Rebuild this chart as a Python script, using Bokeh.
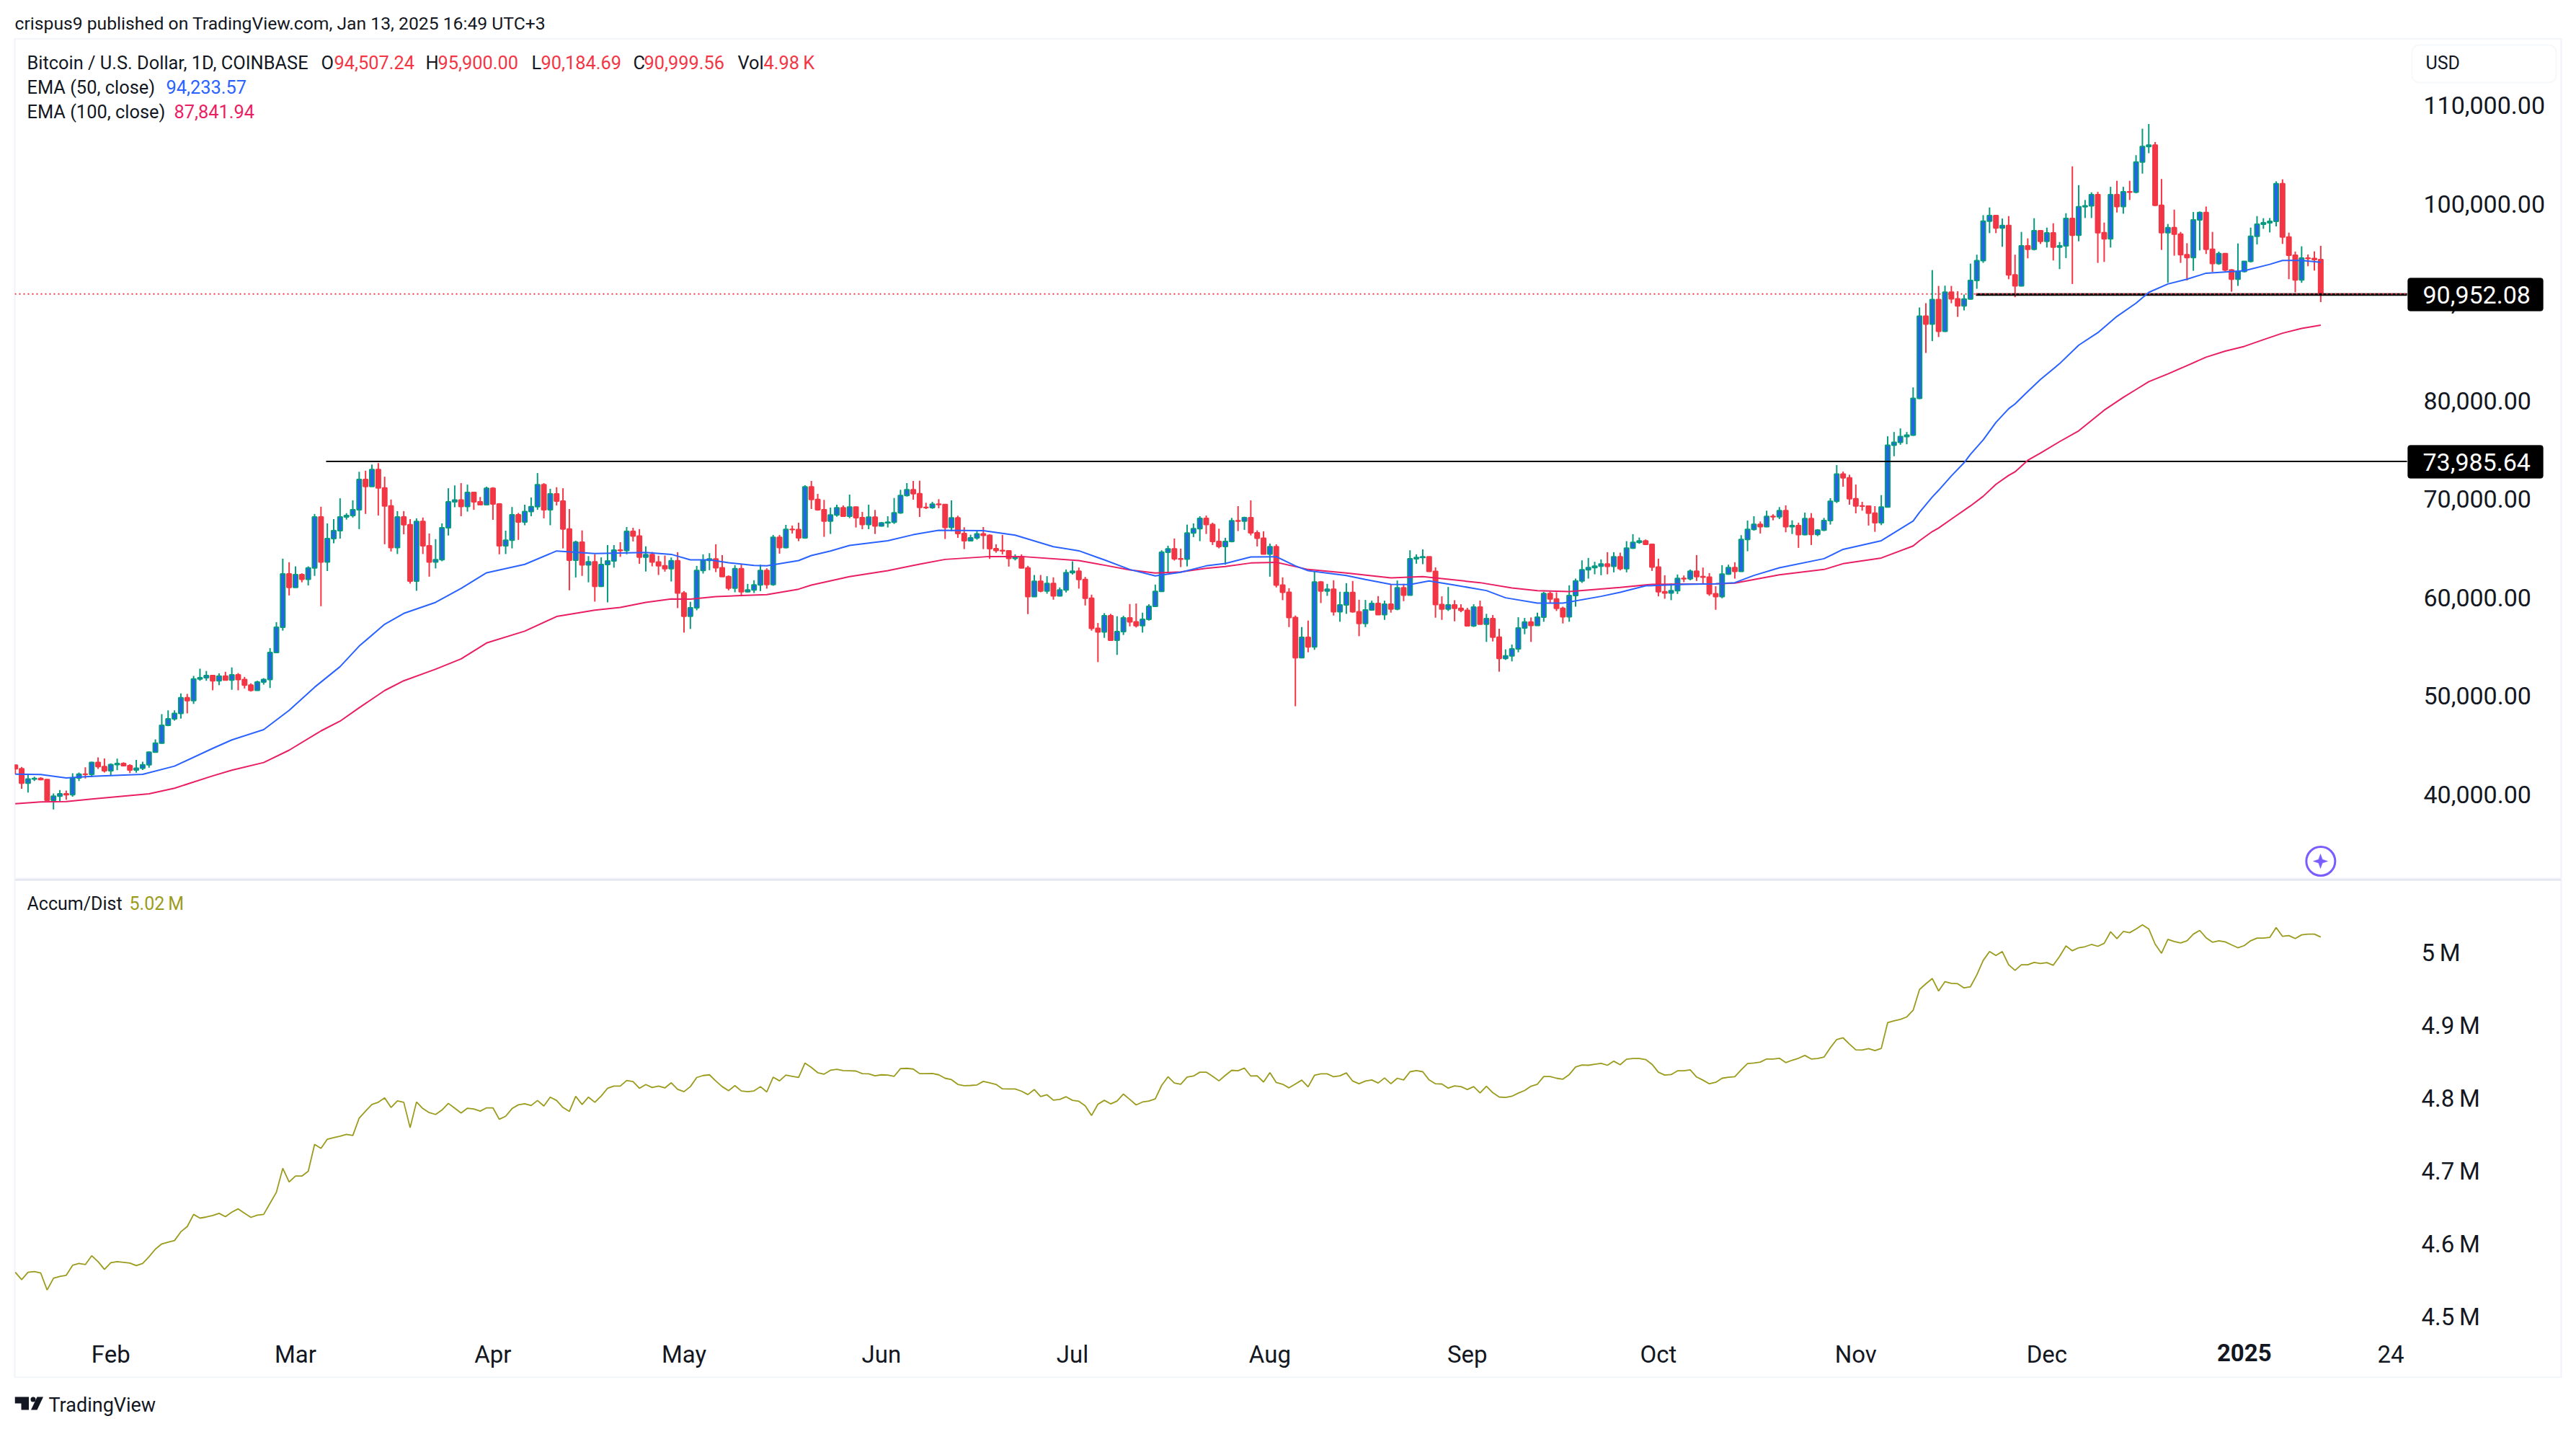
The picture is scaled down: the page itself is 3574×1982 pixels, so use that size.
from bokeh.plotting import figure
from bokeh.layouts import column
from bokeh.models import (Range1d, LinearAxis, FixedTicker, NumeralTickFormatter, Label,
                          BoxAnnotation, Span, ColumnDataSource)
from bokeh.embed import file_html
from bokeh.resources import INLINE

# ---------- data (one entry per daily candle, from 17 Jan 2024) ----------
first_open = 43140
closes = [
42772,41309,41727,41780,41675,39560,39977,40212,40135,41832,
42224,42198,43399,42981,42563,43190,43293,43085,42641,42824,
43163,44443,45357,47186,47842,48388,49981,49694,51888,52019,
52228,51705,52175,51784,52306,51836,51261,50739,51574,51836,
54578,57138,62571,61187,62493,62023,63172,68343,63773,66150,
66959,68343,68500,69075,72157,71452,73176,71295,69467,65235,
68343,67560,61840,67900,65418,63773,64008,67247,69885,70068,
69414,70851,69885,69597,71269,69676,65418,65993,68579,67847,
68892,69388,71635,69075,70694,69963,67116,63955,65784,63485,
63799,61291,63511,63877,64974,64948,66881,66411,64269,64530,
63770,63380,63087,63892,60625,58260,59113,62917,63941,64087,
63185,62283,61113,63087,60747,60942,61454,62917,61478,66281,
65233,67086,67061,66232,71401,70133,69085,67939,68548,69280,
68427,69353,68280,67573,68329,67427,67744,67817,68768,70523,
71108,70718,69329,69300,69646,69621,67281,68256,66671,65940,
66232,66622,66476,65135,64940,64900,64135,64306,63160,60260,
61819,60820,61600,60333,60942,62697,62844,61990,60089,57041,
56675,58309,55822,56699,58089,57699,57309,57943,59260,60796,
64770,65111,64100,64062,66720,67159,68207,67573,65867,65355,
65867,67963,67939,68280,66744,66184,64575,65330,61429,60698,
58138,54042,56115,55140,61747,60820,61015,58723,59406,60674,
58723,57529,58894,59552,58431,59479,58991,61161,60405,64111,
64233,64306,62819,59455,58991,59406,59065,58870,57285,59187,
57455,58016,56139,53969,54237,54944,57066,57675,57334,58162,
60576,60015,59065,58211,60357,61844,62990,63209,63355,63575,
63331,64306,63087,65184,65769,65915,65574,63258,60747,60625,
60869,62112,62063,62844,62290,62230,60552,60260,62551,63209,
62819,66062,67086,67598,67354,68402,68378,68987,67354,67476,
66549,68183,66574,67012,67988,69938,72717,72327,70206,69475,
69450,68744,67767,69351,75641,75934,76519,76665,80395,88755,
87951,90437,87219,91198,90510,89803,90486,92387,94387,98409,
98970,97702,97970,92948,91827,95898,95557,97434,96361,97215,
95776,95898,98678,96971,99872,99970,101091,97239,96605,101091,
99897,101384,101359,104407,105991,106138,100018,97239,97751,97093,
94996,94704,98531,99287,95557,94094,95118,93436,92509,93290,
94314,96874,98092,98239,98385,102213,96800,94947,92436,94655,
94606,94507.24,90999.56]
highs = [
43200,42955,42224,41963,41910,41727,40265,40604,40552,42302,
42380,42903,43478,43921,43817,43320,43790,43425,43216,43660,
43478,44522,45749,48309,48701,48701,50425,50373,52201,52933,
52697,52228,52462,52619,53063,52489,52097,51444,51705,51967,
55022,57661,64112,63746,63329,62623,63329,68657,69388,67691,
68135,70250,68735,70041,72941,73045,73672,73829,72444,70120,
68944,68944,68135,68213,68291,66672,66097,67691,71269,71556,
71791,71635,70904,70381,71426,71373,69754,66959,69362,68762,
69597,70329,72810,71791,71217,71373,71269,69153,65941,66986,
64373,64556,64243,65497,65497,65784,67325,67247,67116,65366,
64794,64404,64428,64233,64770,60820,59723,63380,64550,64672,
65574,64477,62405,63453,63550,61551,61917,63502,63136,66525,
66525,67549,67476,67768,71572,72010,70694,70084,69304,69597,
69523,70621,69402,68865,69597,69060,67841,68427,70279,71108,
71791,72010,72035,69792,69889,70158,69597,70036,68475,67305,
66549,66964,67330,66598,65574,66525,64940,64550,64550,63380,
62453,62453,62332,62210,61186,63014,63843,63209,62258,60454,
57578,58577,58504,58260,58309,59503,59552,58626,59479,61478,
64965,65428,66159,65135,67573,67695,68427,68500,67768,67159,
66232,68256,69450,68378,70036,66988,66891,65647,65574,62210,
61113,58333,57163,57821,62844,61844,61551,61917,60747,61625,
61844,59942,59918,59845,60308,59845,61478,61893,61551,64965,
64550,65062,64306,63234,60284,61235,59894,59479,59113,59479,
59845,58504,58382,56992,54896,55383,58162,58089,58138,58626,
60747,60747,60698,59235,61405,62088,63941,64184,63794,64038,
64770,64770,64721,65891,66598,66257,66062,65647,64111,62429,
61600,62502,62405,63014,64477,63209,62649,61308,63453,63502,
63746,66500,67988,68427,67890,68987,68622,69353,69524,68012,
67768,68792,68744,67110,68256,70255,73619,72961,72644,71645,
69889,69475,69449,70570,76543,76982,77348,76982,81517,89635,
90074,93436,91827,91851,91827,91290,90949,94094,95000,99019,
99799,99019,98678,98921,95000,97312,96654,98702,97434,97751,
98190,96288,99214,103968,102066,100555,101335,101384,98263,101896,
102505,101896,102505,105114,107796,108283,106455,102700,98117,99580,
97312,96166,99336,99385,99897,97312,95313,95167,93533,96142,
94314,97751,98921,98702,98726,102456,102652,97239,95313,95850,
95021,95337,95900]
lows = [
42200,40734,40343,41518,41597,39507,38619,39455,39612,39925,
41518,41780,41910,42747,42380,42041,42615,43007,42328,42354,
42641,42876,44391,45305,47082,47656,47865,48388,49354,51705,
51705,50739,51261,51731,50791,50739,50922,50608,50687,51313,
50973,54526,56798,60377,61161,61709,61396,62362,59280,62858,
65679,66150,68082,68291,67116,68657,71426,68500,65575,64843,
64582,66593,61578,60847,64582,62284,63120,63851,66463,69336,
68422,68892,69075,69545,69545,68056,64556,64582,65157,66019,
67508,68422,69075,68213,67508,69519,65157,60899,62205,62362,
61709,59750,61239,59672,63198,64295,64556,65862,63590,62806,
63331,62453,62795,61795,59089,56602,56968,58870,62600,62941,
62746,62258,60893,60698,60284,60698,60625,60820,61064,61356,
64623,65160,66671,65891,66135,69158,68987,66330,66622,68378,
68378,68232,67281,67110,67110,66622,67378,67281,67646,68670,
70426,70109,68353,69158,69182,69231,66110,66890,66232,65087,
65867,66037,65087,64087,64721,64550,63307,63941,63136,58480,
60211,60698,60552,59942,60284,60674,62502,61064,59357,56797,
53604,56066,55749,54335,56359,57236,57114,56602,57821,59235,
60747,62649,63916,63258,63331,66305,65891,66622,65501,65160,
63502,65769,66915,67037,66476,65355,64550,62283,61186,59894,
57163,49118,54042,54603,54847,59601,60333,58333,57699,58504,
58626,56237,57163,58870,58382,57894,58626,58870,59796,60381,
63599,63550,62770,58114,57894,58797,57748,58675,57236,57163,
57407,55651,55700,52628,53823,53676,54603,56432,55651,57285,
57699,59601,58797,57529,57699,59235,61649,62088,62526,62429,
62526,62722,62917,62722,65111,65623,65574,62868,60284,60040,
59894,60528,61722,61917,61844,61551,60333,58919,60089,62478,
62088,62770,64867,66964,66671,67305,68012,68134,66793,66622,
65208,66476,65501,66403,66915,67573,69767,71425,69597,68719,
68987,67476,66840,67522,69327,74520,75690,75739,76592,80322,
85024,86219,86634,87146,90071,88682,89340,90437,91534,94168,
97190,97190,95801,92509,90681,91778,94631,95435,96093,95728,
94411,93534,94655,92022,96361,98726,98726,94168,94265,95728,
99287,99165,100555,101237,103237,105309,99945,95484,92144,94899,
94168,92387,93363,95435,95069,93241,93972,93290,91242,91827,
93192,94216,96045,97629,97264,97873,96093,92509,91169,92144,
93826,93387,90184.69]

ema50_day = [0,4,8,12,20,25,31,34,39,43,47,51,54,58,61,66,70,74,80,85,91,99,103,106,109,112,116,118,123,125,128,131,137,141,145,152,157,163,167,171,175,179,183,187,190,194,198,201,203,209,212,216,219,222,226,231,234,239,243,249,252,256,262,267,270,273,277,284,287,293,298,299,301,302,304,306,307,309,311,313,314,316,318,321,324,327,330,333,335,338,341,344,347,350,354,356,359,362]
ema50 = [42224,42171,41832,41989,42198,43033,44836,45697,46742,48702,51052,53142,55231,57452,58549,59672,61082,62676,63537,64896,64635,64739,64550,63989,63989,63697,63429,63380,63916,64428,64891,65452,65940,66549,66988,66964,66500,65330,64916,63989,63014,62356,62722,63380,63624,64282,64306,63380,62892,62405,61990,61503,61478,61844,61429,60869,60137,59601,59601,60284,60698,61356,61503,61552,61675,62405,63185,64111,65060,65938,67937,68815,70375,71058,72521,73862,74715,76178,77957,79347,79835,81102,82321,83930,85805,87073,88730,90071,91169,92022,92509,93119,93241,93363,94021,94411,94411,94233.57]
ema100_day = [0,4,8,12,21,25,31,34,39,43,48,51,54,58,61,66,70,74,80,85,91,95,99,103,106,110,114,118,123,125,131,137,142,146,153,158,167,171,175,179,183,187,190,194,198,201,203,209,216,221,230,235,239,244,252,257,267,270,277,284,287,293,298,299,301,302,304,307,309,311,313,314,316,318,321,324,328,331,333,335,338,341,344,347,350,353,356,359,362]
ema100 = [39219,39402,39429,39690,40212,40787,42041,42615,43399,44652,46611,47604,48962,50713,51705,52881,53926,55546,56746,58235,58888,59150,59672,60015,59991,60260,60357,60454,61015,61429,62283,62892,63551,64038,64331,64331,63916,63453,62965,62648,62770,63136,63307,63672,63745,63307,63014,62648,62161,62283,61675,61137,60869,60771,61186,61503,61552,61625,62478,63014,63600,64183,65402,65938,66864,67230,68132,69473,70448,71667,72569,72935,74105,74837,76007,77104,79200,80500,81300,82099,82880,83732,84586,85196,85683,86366,87023,87513,87841.94]

accum_dist = [
4.5612,4.5510,4.5612,4.5622,4.5601,4.5369,4.5530,4.5556,4.5571,4.5708,
4.5733,4.5718,4.5839,4.5758,4.5652,4.5743,4.5758,4.5748,4.5738,4.5703,
4.5733,4.5824,4.5930,4.6001,4.6026,4.6047,4.6168,4.6239,4.6406,4.6355,
4.6370,4.6391,4.6421,4.6375,4.6436,4.6482,4.6421,4.6365,4.6396,4.6406,
4.6558,4.6710,4.7038,4.6851,4.6932,4.6932,4.6998,4.7367,4.7312,4.7438,
4.7458,4.7479,4.7504,4.7489,4.7727,4.7823,4.7914,4.7944,4.8005,4.7873,
4.7964,4.7944,4.7595,4.7949,4.7858,4.7802,4.7777,4.7838,4.7929,4.7863,
4.7797,4.7863,4.7853,4.7823,4.7868,4.7868,4.7711,4.7752,4.7858,4.7909,
4.7924,4.7899,4.7969,4.7893,4.8015,4.7969,4.7873,4.7818,4.8025,4.7914,
4.8015,4.7944,4.8030,4.8136,4.8167,4.8167,4.8243,4.8228,4.8136,4.8187,
4.8147,4.8167,4.8141,4.8212,4.8121,4.8090,4.8159,4.8284,4.8311,4.8321,
4.8235,4.8159,4.8103,4.8172,4.8100,4.8090,4.8100,4.8159,4.8086,4.8288,
4.8238,4.8317,4.8301,4.8284,4.8482,4.8423,4.8350,4.8330,4.8383,4.8396,
4.8380,4.8377,4.8373,4.8337,4.8334,4.8307,4.8321,4.8317,4.8301,4.8406,
4.8410,4.8400,4.8337,4.8337,4.8340,4.8321,4.8274,4.8255,4.8189,4.8172,
4.8175,4.8182,4.8231,4.8212,4.8189,4.8129,4.8126,4.8126,4.8096,4.8050,
4.8119,4.8024,4.8047,4.7974,4.7984,4.8020,4.7971,4.7958,4.7895,4.7763,
4.7918,4.7971,4.7922,4.7961,4.8057,4.7984,4.7908,4.7948,4.7961,4.7991,
4.8175,4.8294,4.8208,4.8192,4.8291,4.8304,4.8357,4.8357,4.8301,4.8238,
4.8314,4.8383,4.8377,4.8413,4.8304,4.8307,4.8222,4.8350,4.8215,4.8192,
4.8142,4.8195,4.8248,4.8156,4.8314,4.8334,4.8334,4.8294,4.8307,4.8347,
4.8235,4.8198,4.8235,4.8251,4.8208,4.8278,4.8198,4.8274,4.8251,4.8363,
4.8380,4.8363,4.8251,4.8198,4.8195,4.8139,4.8168,4.8159,4.8119,4.8159,
4.8073,4.8165,4.8076,4.8017,4.8010,4.8027,4.8070,4.8106,4.8165,4.8192,
4.8297,4.8297,4.8274,4.8261,4.8324,4.8429,4.8455,4.8452,4.8465,4.8478,
4.8452,4.8508,4.8459,4.8535,4.8544,4.8544,4.8531,4.8465,4.8357,4.8317,
4.8324,4.8376,4.8376,4.8389,4.8291,4.8248,4.8198,4.8218,4.8274,4.8287,
4.8294,4.8389,4.8475,4.8482,4.8495,4.8538,4.8538,4.8548,4.8488,4.8521,
4.8548,4.8587,4.8538,4.8544,4.8564,4.8693,4.8805,4.8828,4.8742,4.8663,
4.8660,4.8680,4.8653,4.8683,4.9036,4.9062,4.9082,4.9115,4.9207,4.9491,
4.9570,4.9642,4.9471,4.9599,4.9576,4.9570,4.9514,4.9530,4.9692,4.9890,
5.0012,4.9959,5.0012,4.9830,4.9754,4.9830,4.9830,4.9863,4.9847,4.9860,
4.9824,4.9946,5.0089,5.0023,5.0064,5.0079,5.0109,5.0084,5.0125,5.0282,
5.0190,5.0287,5.0271,5.0322,5.0378,5.0322,5.0114,4.9988,5.0180,5.0150,
5.0130,5.0160,5.0251,5.0302,5.0201,5.0140,5.0160,5.0145,5.0104,5.0064,
5.0094,5.0160,5.0196,5.0196,5.0206,5.0342,5.0221,5.0231,5.0190,5.0241,
5.0251,5.0251,5.0211]

resistance_level = 73985.64
support_level = 90952.08
last_close = 90999.56
price_ticks = [40000,50000,60000,70000,80000,90000,100000,110000]
ad_ticks = [4.5,4.6,4.7,4.8,4.9,5.0]
ad_tick_labels = ["4.5\u2009M","4.6\u2009M","4.7\u2009M","4.8\u2009M","4.9\u2009M","5\u2009M"]
time_ticks = [15,44,75,105,136,166,197,228,258,289,319,373]
time_labels = ["Feb","Mar","Apr","May","Jun","Jul","Aug","Sep","Oct","Nov","Dec","24"]
year_tick = 350
year_label = "2025"

# ---------- styling / layout ----------
INK = "#131722"
RED = "#f23645"
GREEN = "#089981"
BLUE = "#2563eb"
EMA50C = "#2962ff"
EMA100C = "#e91e63"
OLIVE = "#9b9b1d"
FONT = "Roboto"
W = 3574
DAY = 8.836
X0 = 20.7
LEFT, RIGHT = 20, 3553

def xd(px):           # page pixel -> candle number, for decorations
    return (px - X0) / DAY
def yp(py):           # page pixel -> price, for decorations
    return 90952 + (408 - py) / 0.01365
def ya(py):           # page pixel -> accum/dist, for decorations
    return 5 - (py - 1320.5) / 1011

x_rng = Range1d(xd(LEFT), xd(RIGHT))

def base(h, xr, yr, **kw):
    f = figure(width=W, height=h, x_range=xr, y_range=yr, output_backend="svg", toolbar_location=None,
               min_border=0, **kw)
    f.background_fill_color = "white"
    f.border_fill_color = "white"
    f.grid.visible = False
    return f

def txt(f, x, y, s, color=INK, size=26, align="left", weight="normal"):
    f.add_layout(Label(x=x, y=y, text=s, text_color=color, text_font=FONT, text_font_size=f"{size}px",
                       text_align=align, text_baseline="middle", text_font_style=weight))

# header strip (its frame lines up with the panes' frames, so its x range runs over the same pixels)
p0 = base(53, Range1d(LEFT, RIGHT), Range1d(53, 0), x_axis_location=None, y_axis_location=None,
          min_border_left=LEFT, min_border_right=W - RIGHT)
p0.outline_line_color = None
txt(p0, 20, 32, "crispus9 published on TradingView.com, Jan 13, 2025 16:49 UTC+3", size=24.7)

# price pane
p1 = base(1166, x_rng, Range1d(yp(1219), yp(53)), x_axis_location=None, y_axis_location=None,
          min_border_left=LEFT, min_border_right=W - RIGHT)
p1.outline_line_color = "#f0f3fa"
p1.outline_line_width = 2
# the axis scale sits 2px above the price scale, as the labels do in the reference
p1.extra_y_ranges = {"ticks": Range1d(yp(1221), yp(55))}
ax = LinearAxis(y_range_name="ticks")
ax.ticker = FixedTicker(ticks=price_ticks)
ax.formatter = NumeralTickFormatter(format="0,0.00")
ax.axis_line_color = None
ax.major_tick_line_color = None
ax.minor_tick_line_color = None
ax.major_label_standoff = -197
ax.major_label_text_font = FONT
ax.major_label_text_font_size = "34px"
ax.major_label_text_color = INK
p1.add_layout(ax, "right")

days = list(range(len(closes)))
opens = [first_open] + closes[:-1]
hi = [max(h, o, c) for h, o, c in zip(highs, opens, closes)]
lo = [min(l, o, c) for l, o, c in zip(lows, opens, closes)]
wick_col = [GREEN if c >= o else RED for o, c in zip(opens, closes)]
line_col = wick_col
fill_col = [BLUE if c >= o else RED for o, c in zip(opens, closes)]
src = ColumnDataSource(dict(x=days, o=opens, c=closes, h=hi, l=lo, w=wick_col, b=line_col, f=fill_col))

# red dotted last-price line first, candles over it
p1.segment(xd(LEFT), last_close, xd(3339), last_close, line_color=RED, line_width=2, line_dash="2 4")
p1.segment("x", "h", "x", "l", source=src, line_color="w", line_width=2)
p1.vbar(x="x", top="o", bottom="c", width=0.68, source=src, fill_color="f", line_color="b", line_width=2)
p1.segment(xd(452), resistance_level, xd(3339), resistance_level, line_color="black", line_width=2)
p1.segment(xd(2741), support_level, xd(3339), support_level, line_color="black", line_width=3.5)
p1.segment(xd(2741), last_close, xd(3339), last_close, line_color=RED, line_width=2, line_dash="2 4")
p1.line(ema100_day, ema100, line_color=EMA100C, line_width=2)
p1.line(ema50_day, ema50, line_color=EMA50C, line_width=2)

for level, top, bot in [(support_level, 385, 431), (resistance_level, 617, 663)]:
    p1.add_layout(BoxAnnotation(left=xd(3340), right=xd(3528), top=yp(top), bottom=yp(bot), fill_color="black",
                                fill_alpha=1, line_color="black", border_radius=4))
    txt(p1, xd(3361), yp((top + bot) / 2), f"{level:,.2f}", color="white", size=34)

# USD box
p1.add_layout(BoxAnnotation(left=xd(3346), right=xd(3546), top=yp(62), bottom=yp(114), fill_color="white",
                            fill_alpha=1, line_color="#e6e8ef", line_width=2, border_radius=10))
txt(p1, xd(3365), yp(87), "USD", size=25)

# purple marker
p1.scatter([362], [yp(1194)], size=40, marker="circle", fill_alpha=0, line_color="#7b5cff", line_width=3)
cx, cy, r, q = 3219, 1194, 10, 2.6
p1.patch([xd(cx), xd(cx + q), xd(cx + r), xd(cx + q), xd(cx), xd(cx - q), xd(cx - r), xd(cx - q)],
         [yp(cy - r), yp(cy - q), yp(cy), yp(cy + q), yp(cy + r), yp(cy + q), yp(cy), yp(cy - q)],
         fill_color="#7b5cff", line_color="#7b5cff", line_width=0.5)

# legend
ly1, ly2, ly3 = 86, 120, 154
txt(p1, xd(37), yp(ly1), "Bitcoin / U.S. Dollar, 1D, COINBASE", size=25.4)
for px, s in [(445, "O"), (590, "H"), (737, "L"), (878, "C"), (1023, "Vol")]:
    txt(p1, xd(px), yp(ly1), s, size=25.4)
for px, s in [(463, "94,507.24"), (607, "95,900.00"), (750, "90,184.69"), (893, "90,999.56"), (1059, "4.98\u2009K")]:
    txt(p1, xd(px), yp(ly1), s, color=RED, size=25.4)
txt(p1, xd(37), yp(ly2), "EMA (50, close)", size=25.4)
txt(p1, xd(230), yp(ly2), "94,233.57", color=EMA50C, size=25.4)
txt(p1, xd(37), yp(ly3), "EMA (100, close)", size=25.4)
txt(p1, xd(241), yp(ly3), "87,841.94", color=EMA100C, size=25.4)

# accumulation / distribution pane
p2 = base(692, x_rng, Range1d(ya(1911), ya(1219)), y_axis_location="right",
          min_border_left=LEFT, min_border_right=W - RIGHT)
p2.outline_line_color = "#f0f3fa"
p2.outline_line_width = 2
p2.add_layout(Span(location=ya(1219), dimension="width", line_color="#e0e3eb", line_width=4))
ay = p2.yaxis[0]
ay.ticker = FixedTicker(ticks=ad_ticks)
ay.major_label_overrides = dict(zip(ad_ticks, ad_tick_labels))
ay.axis_line_color = None
ay.major_tick_line_color = None
ay.minor_tick_line_color = None
ay.major_label_standoff = -200
ay.major_label_text_font = FONT
ay.major_label_text_font_size = "33px"
ay.major_label_text_color = INK
ax2 = p2.xaxis[0]
ax2.ticker = FixedTicker(ticks=time_ticks)
ax2.major_label_overrides = dict(zip(time_ticks, time_labels))
ax2.axis_line_color = None
ax2.major_tick_line_color = None
ax2.minor_tick_line_color = None
ax2.major_label_standoff = -59
ax2.major_label_text_font = FONT
ax2.major_label_text_font_size = "33px"
ax2.major_label_text_color = INK
p2.line(days, accum_dist, line_color=OLIVE, line_width=1.8)
txt(p2, xd(37), ya(1252.6), "Accum/Dist", size=25)
txt(p2, xd(179), ya(1252.6), "5.02\u2009M", color=OLIVE, size=25)
txt(p2, year_tick, ya(1875), year_label, size=33, align="center", weight="bold")

# footer strip with the logo (x range over the same pixels as the panes' frames)
p3 = base(70, Range1d(LEFT, RIGHT), Range1d(1981, 1911), x_axis_location=None, y_axis_location=None,
          min_border_left=LEFT, min_border_right=W - RIGHT)
p3.outline_line_color = None
p3.patch([20, 39.5, 39.5, 29, 29, 20], [1937, 1937, 1955, 1955, 1946, 1946], fill_color=INK, line_color=INK, line_width=0)
p3.scatter([45.5], [1940.5], size=7, marker="circle", fill_color=INK, line_color=INK, line_width=0)
p3.patch([59.5, 51, 42.5, 51], [1937, 1937, 1955, 1955], fill_color=INK, line_color=INK, line_width=0)
txt(p3, 67, 1948, "TradingView", size=27)

page = column(p0, p1, p2, p3, spacing=0)
open("out.html", "w").write(file_html(page, INLINE))
